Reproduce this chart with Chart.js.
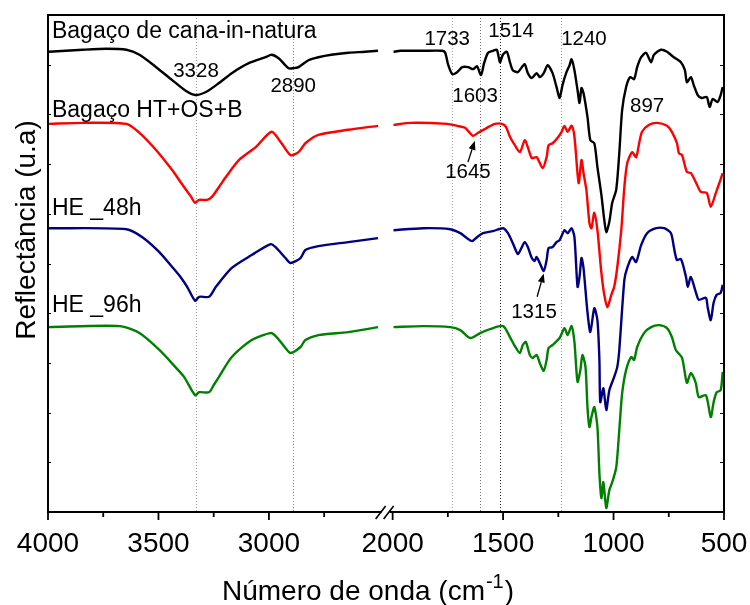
<!DOCTYPE html>
<html>
<head>
<meta charset="utf-8">
<script src="https://cdn.jsdelivr.net/npm/chart.js@4.4.1/dist/chart.umd.min.js"></script>
<style>
  html, body { margin: 0; padding: 0; background: #fff; }
  canvas { display: block; }
</style>
</head>
<body>
<canvas id="c" width="750" height="605"></canvas>
<script>
// ---------- DATA (wavenumber in cm-1, reflectance in arbitrary units) ----------
const seriesNames = ['Bagaço de cana-in-natura', 'Bagaço HT+OS+B', 'HE _48h', 'HE _96h'];

const naturaWn = [3996,3843,3735,3645,3586,3510,3438,3375,3334,3285,3226,3168,3091,3015,2988,2956,2911,2889,2866,2821,2776,2718,2641,2565,2506,
  1996,1964,1861,1775,1762,1748,1730,1708,1685,1658,1636,1618,1600,1586,1568,1546,1528,1514,1501,1483,1469,1456,1433,1415,1402,1388,1370,1348,1334,1316,1298,1276,1258,1244,1231,1213,1199,1190,1177,1163,1154,1145,1136,1118,1105,1087,1073,1055,1042,1033,1019,1006,988,974,961,943,925,907,893,875,853,830,817,785,758,727,695,677,668,650,637,619,601,578,565,551,529,515,506];
const naturaR = [9.26,9.30,9.32,9.30,9.20,8.95,8.69,8.47,8.39,8.45,8.63,8.83,9.03,9.15,9.20,9.13,8.93,8.93,8.95,9.09,9.15,9.20,9.24,9.26,9.28,
  9.26,9.28,9.28,9.28,9.24,8.99,8.81,8.85,8.95,8.95,8.91,8.97,8.79,9.03,9.24,9.28,9.30,9.05,9.20,9.26,9.05,8.89,8.85,8.95,9.01,8.83,8.73,8.83,8.75,8.83,8.99,8.83,8.55,8.33,8.59,8.85,8.99,9.11,8.89,8.49,8.23,8.53,8.43,7.95,7.48,7.42,6.94,6.38,5.88,5.63,5.84,6.22,6.48,7.22,8.09,8.55,8.75,8.71,8.95,9.15,9.24,9.05,9.20,9.30,9.26,9.15,9.05,8.89,8.65,8.75,8.59,8.39,8.33,8.35,8.15,8.31,8.25,8.39,8.55];

const htWn = [3996,3843,3645,3586,3510,3438,3397,3352,3334,3316,3280,3258,3226,3195,3136,3060,2988,2943,2902,2866,2835,2776,2641,2506,
  1996,1919,1753,1708,1672,1636,1613,1573,1537,1505,1487,1469,1447,1424,1402,1388,1370,1348,1321,1303,1294,1276,1253,1235,1222,1208,1190,1177,1158,1145,1136,1123,1109,1100,1087,1073,1055,1042,1028,1010,997,983,965,951,938,916,898,884,871,839,803,758,736,713,704,690,668,650,628,605,578,560,537,524,506];
const htR = [7.81,7.83,7.81,7.63,7.28,6.88,6.62,6.34,6.22,6.28,6.28,6.34,6.54,6.74,7.08,7.34,7.65,7.42,7.18,7.24,7.42,7.59,7.69,7.77,
  7.79,7.83,7.81,7.77,7.73,7.57,7.63,7.73,7.81,7.81,7.75,7.55,7.38,7.24,7.48,7.34,7.12,7.14,6.92,7.14,7.38,7.42,7.53,7.65,7.77,7.65,7.77,7.55,6.62,7.08,6.82,6.48,5.81,5.71,6.02,5.67,4.81,4.37,4.12,4.37,4.53,4.93,5.67,6.54,7.02,7.24,7.14,7.42,7.65,7.79,7.83,7.77,7.65,7.42,7.22,7.18,6.84,6.82,6.64,6.44,6.42,6.14,6.42,6.58,6.82];

const he48Wn = [3996,3645,3573,3496,3438,3397,3370,3334,3316,3271,3240,3168,3078,2992,2970,2925,2902,2857,2835,2776,2641,2506,
  1996,1861,1739,1694,1663,1640,1618,1591,1546,1500,1478,1456,1433,1415,1402,1388,1370,1357,1348,1334,1316,1303,1294,1276,1258,1244,1222,1208,1190,1177,1163,1154,1145,1136,1118,1105,1087,1073,1064,1060,1046,1033,1019,997,983,974,951,938,916,898,875,848,807,771,740,727,713,695,672,664,650,628,614,582,574,560,547,533,515,506];
const he48R = [5.71,5.69,5.53,5.23,4.93,4.71,4.53,4.25,4.33,4.33,4.53,4.91,5.17,5.39,5.33,5.11,5.01,5.11,5.27,5.35,5.43,5.51,
  5.67,5.71,5.69,5.61,5.51,5.45,5.53,5.61,5.65,5.71,5.61,5.41,5.19,5.33,5.43,5.33,5.11,5.05,5.13,5.01,4.85,5.07,5.31,5.33,5.43,5.47,5.67,5.61,5.71,5.53,4.53,4.73,5.11,4.91,4.02,3.62,4.10,3.86,3.06,2.21,2.49,2.05,2.45,2.72,2.92,3.26,4.67,4.91,5.13,5.03,5.37,5.61,5.71,5.71,5.61,5.33,5.07,5.09,4.73,4.53,4.73,4.43,4.27,4.31,4.12,3.86,4.21,4.37,4.41,4.57];

const he96Wn = [3996,3676,3586,3496,3420,3384,3334,3316,3271,3249,3226,3168,3078,2992,2965,2925,2902,2857,2835,2776,2641,2506,
  1996,1861,1739,1694,1649,1604,1559,1500,1469,1447,1424,1411,1397,1379,1366,1348,1334,1316,1303,1294,1276,1244,1222,1208,1190,1177,1163,1150,1141,1127,1118,1109,1100,1087,1073,1064,1055,1046,1033,1019,1006,988,974,961,943,920,907,893,862,830,794,758,736,718,690,668,650,628,614,582,560,547,533,515,506];
const he96R = [3.72,3.74,3.60,3.26,2.90,2.72,2.35,2.41,2.41,2.56,2.72,3.12,3.46,3.60,3.52,3.30,3.20,3.32,3.46,3.56,3.62,3.72,
  3.72,3.74,3.72,3.66,3.50,3.60,3.68,3.74,3.52,3.34,3.20,3.36,3.42,3.16,3.10,3.16,3.00,2.84,3.06,3.30,3.36,3.50,3.70,3.56,3.74,3.42,2.62,2.86,3.16,2.92,2.11,1.71,1.91,2.11,1.71,0.78,0.28,0.60,0.08,0.44,0.60,0.89,1.65,2.39,2.86,3.12,3.06,3.32,3.60,3.72,3.76,3.70,3.52,3.26,3.10,2.60,2.80,2.60,2.31,2.35,1.91,2.21,2.41,2.45,2.82];

// axis ticks
const xMajorTicks = [4000, 3500, 3000, 2000, 1500, 1000, 500];
const xMinorTicks = [3750, 3250, 2750, 1750, 1250, 750];
const yTicks = [1, 2, 3, 4, 5, 6, 7, 8, 9];

// marked band positions (dotted guide lines)
const markedPeaks = [3328, 2890, 1733, 1603, 1514, 1240];

// ---------- STYLE / LAYOUT CONFIG ----------
const seriesColors = ['#000000', '#ff0000', '#000080', '#008000'];
const peakLineColors = ['#9a9a9a', '#8a8a8a', '#a8a8a8', '#707070', '#202020', '#9a9a9a'];
const BREAK_WN = 2250;
const FONT = '"Liberation Sans", Arial, Helvetica, sans-serif';

// text annotations: text, wavenumber anchor, reflectance anchor (baseline), alignment, size
const annotations = [
  { text: seriesNames[0], wn: 3982, r: 9.54, align: 'left', size: 23 },
  { text: seriesNames[1], wn: 3982, r: 7.95, align: 'left', size: 23 },
  { text: seriesNames[2], wn: 3982, r: 5.98, align: 'left', size: 23 },
  { text: seriesNames[3], wn: 3982, r: 4.02, align: 'left', size: 23 },
  { text: '3328', wn: 3330, r: 8.75, align: 'center', size: 20.5 },
  { text: '2890', wn: 2890, r: 8.45, align: 'center', size: 20.5 },
  { text: '1733', wn: 1753, r: 9.40, align: 'center', size: 20.5 },
  { text: '1514', wn: 1464, r: 9.56, align: 'center', size: 20.5 },
  { text: '1240', wn: 1134, r: 9.40, align: 'center', size: 20.5 },
  { text: '1603', wn: 1627, r: 8.25, align: 'center', size: 20.5 },
  { text: '897',  wn: 848,  r: 8.05, align: 'center', size: 20.5 },
  { text: '1645', wn: 1659, r: 6.72, align: 'center', size: 20.5 },
  { text: '1315', wn: 1360, r: 3.90, align: 'center', size: 20.5 }
];
const arrows = [
  { from: [1659, 7.04], to: [1628, 7.47] },
  { from: [1346, 4.33], to: [1316, 4.80] }
];

// ---------- BUILD DATASETS ----------
const seriesWn = [naturaWn, htWn, he48Wn, he96Wn];
const seriesR = [naturaR, htR, he48R, he96R];
const datasets = [];
seriesWn.forEach((wn, s) => {
  const left = [], right = [];
  wn.forEach((w, i) => {
    const p = { x: w, y: seriesR[s][i] };
    (w > BREAK_WN ? left : right).push(p);
  });
  [[left, 'xL'], [right, 'xR']].forEach(([data, axis]) => {
    datasets.push({
      label: seriesNames[s],
      data,
      xAxisID: axis,
      yAxisID: 'y',
      borderColor: seriesColors[s],
      borderWidth: 2.4,
      pointRadius: 0,
      tension: 0.25,
      fill: false
    });
  });
});

const scaleOf = (chart, wn) => (wn > BREAK_WN ? chart.scales.xL : chart.scales.xR);

const framePlugin = {
  id: 'frame',
  beforeDatasetsDraw(chart) {
    const { ctx, chartArea: a } = chart;
    ctx.save();
    ctx.lineWidth = 1;
    ctx.setLineDash([1, 2]);
    markedPeaks.forEach((p, i) => {
      const x = Math.round(scaleOf(chart, p).getPixelForValue(p)) + 0.5;
      ctx.strokeStyle = peakLineColors[i];
      ctx.beginPath();
      ctx.moveTo(x, a.top);
      ctx.lineTo(x, a.bottom);
      ctx.stroke();
    });
    ctx.restore();
  },
  afterDatasetsDraw(chart) {
    const { ctx, chartArea: a, scales } = chart;
    const y = scales.y;
    ctx.save();
    ctx.strokeStyle = '#000';
    ctx.fillStyle = '#000';
    ctx.lineWidth = 2;
    ctx.lineCap = 'butt';

    // frame: left, top, right
    ctx.beginPath();
    ctx.moveTo(a.left, a.bottom + 1);
    ctx.lineTo(a.left, a.top);
    ctx.lineTo(a.right, a.top);
    ctx.lineTo(a.right, a.bottom + 1);
    ctx.stroke();

    // bottom axis with break
    const brk = scales.xL.right;
    ctx.beginPath();
    ctx.moveTo(a.left - 1, a.bottom);
    ctx.lineTo(brk - 11, a.bottom);
    ctx.moveTo(brk - 3, a.bottom);
    ctx.lineTo(a.right + 1, a.bottom);
    ctx.stroke();
    ctx.lineWidth = 1.6;
    ctx.beginPath();
    ctx.moveTo(brk - 17, a.bottom + 7);
    ctx.lineTo(brk - 7, a.bottom - 6);
    ctx.moveTo(brk - 9, a.bottom + 7);
    ctx.lineTo(brk + 1, a.bottom - 6);
    ctx.stroke();

    // x ticks
    ctx.lineWidth = 1.8;
    xMajorTicks.forEach(t => {
      const x = scaleOf(chart, t).getPixelForValue(t);
      ctx.beginPath(); ctx.moveTo(x, a.bottom); ctx.lineTo(x, a.bottom + 8); ctx.stroke();
    });
    xMinorTicks.forEach(t => {
      const x = scaleOf(chart, t).getPixelForValue(t);
      ctx.beginPath(); ctx.moveTo(x, a.bottom); ctx.lineTo(x, a.bottom + 5); ctx.stroke();
    });
    // y ticks (inward, both sides)
    ctx.lineWidth = 1.2;
    yTicks.forEach(t => {
      const py = Math.round(y.getPixelForValue(t)) + 0.5;
      ctx.beginPath();
      ctx.moveTo(a.left, py); ctx.lineTo(a.left + 3, py);
      ctx.moveTo(a.right, py); ctx.lineTo(a.right - 4, py);
      ctx.stroke();
    });

    // x tick labels
    ctx.font = '28px ' + FONT;
    ctx.textAlign = 'center';
    ctx.textBaseline = 'alphabetic';
    xMajorTicks.forEach(t => {
      const x = scaleOf(chart, t).getPixelForValue(t);
      ctx.fillText(String(t), x, a.bottom + 40);
    });

    // x axis title with superscript
    const t1 = 'Número de onda (cm', sup = '-1', t3 = ')';
    ctx.font = '28px ' + FONT;
    const w1 = ctx.measureText(t1).width, w3 = ctx.measureText(t3).width;
    ctx.font = '20px ' + FONT;
    const w2 = ctx.measureText(sup).width;
    let tx = 367 - (w1 + w2 + w3) / 2;
    ctx.textAlign = 'left';
    ctx.font = '28px ' + FONT;
    ctx.fillText(t1, tx, 600);
    ctx.font = '20px ' + FONT;
    ctx.fillText(sup, tx + w1 + 1, 588);
    ctx.font = '28px ' + FONT;
    ctx.fillText(t3, tx + w1 + w2 + 2, 600);

    // y axis title
    ctx.save();
    ctx.translate(35, 230);
    ctx.rotate(-Math.PI / 2);
    ctx.textAlign = 'center';
    ctx.font = '28px ' + FONT;
    ctx.fillText('Reflectância (u.a)', 0, 0);
    ctx.restore();

    // annotations
    annotations.forEach(an => {
      ctx.font = an.size + 'px ' + FONT;
      ctx.textAlign = an.align;
      ctx.fillText(an.text, scaleOf(chart, an.wn).getPixelForValue(an.wn), y.getPixelForValue(an.r));
    });

    // arrows
    ctx.lineWidth = 1.3;
    arrows.forEach(ar => {
      const x1 = scaleOf(chart, ar.from[0]).getPixelForValue(ar.from[0]);
      const y1 = y.getPixelForValue(ar.from[1]);
      const x2 = scaleOf(chart, ar.to[0]).getPixelForValue(ar.to[0]);
      const y2 = y.getPixelForValue(ar.to[1]);
      const ang = Math.atan2(y2 - y1, x2 - x1);
      const L = 9, W = 3.5;
      const bx = x2 - L * Math.cos(ang), by = y2 - L * Math.sin(ang);
      ctx.beginPath(); ctx.moveTo(x1, y1); ctx.lineTo(bx, by); ctx.stroke();
      ctx.beginPath();
      ctx.moveTo(x2, y2);
      ctx.lineTo(bx + W * Math.sin(ang), by - W * Math.cos(ang));
      ctx.lineTo(bx - W * Math.sin(ang), by + W * Math.cos(ang));
      ctx.closePath();
      ctx.fill();
    });

    ctx.restore();
  }
};

const hiddenAxis = {
  ticks: { display: false },
  grid: { display: false, drawTicks: false },
  border: { display: false },
  title: { display: false }
};

new Chart(document.getElementById('c'), {
  type: 'line',
  data: { datasets },
  options: {
    responsive: false,
    animation: false,
    events: [],
    layout: { padding: { left: 0, right: 26, top: 15, bottom: 0 } },
    plugins: { legend: { display: false }, tooltip: { enabled: false } },
    scales: {
      xL: Object.assign({}, hiddenAxis, {
        type: 'linear', position: 'bottom', stack: 'wn', stackWeight: 1560,
        min: 2440, max: 4000, reverse: true,
        afterFit: s => { s.height = 93; }
      }),
      xR: Object.assign({}, hiddenAxis, {
        type: 'linear', position: 'bottom', stack: 'wn', stackWeight: 1500,
        min: 500, max: 2000, reverse: true,
        afterFit: s => { s.height = 93; }
      }),
      y: Object.assign({}, hiddenAxis, {
        type: 'linear', position: 'left', min: 0, max: 10,
        afterFit: s => { s.width = 48; }
      })
    }
  },
  plugins: [framePlugin]
});
</script>
</body>
</html>
